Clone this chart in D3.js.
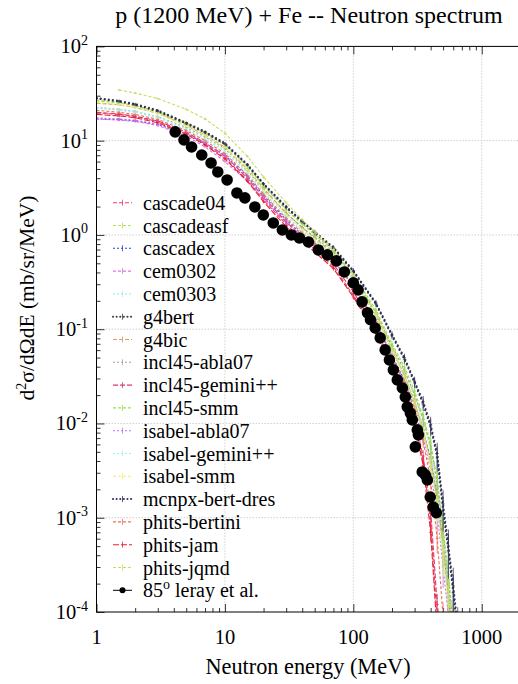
<!DOCTYPE html>
<html>
<head>
<meta charset="utf-8">
<script src="https://cdn.jsdelivr.net/npm/d3@7"></script>
<style>
  html, body { margin: 0; padding: 0; background: #fff; }
  svg { display: block; }
</style>
</head>
<body>
<div id="chart"></div>
<script>
// ---- data ----
const energies = [1, 1.5, 2, 3, 5, 7, 10, 15, 20, 30, 40, 50, 70, 100, 150, 200, 250, 300, 350, 400, 450, 500, 550, 600, 650];
const relErr   = [0.03, 0.03, 0.03, 0.03, 0.03, 0.03, 0.03, 0.03, 0.04, 0.04, 0.04, 0.05, 0.05, 0.06, 0.07, 0.08, 0.10, 0.12, 0.15, 0.2, 0.3, 0.4, 0.5, 0.55, 0.6];

const cascade04     = [19.7, 19.0, 18.0, 16.0, 12.0, 9.2, 6.6, 3.8, 2.35, 1.3, 0.90, 0.70, 0.46, 0.23, 0.095, 0.040, 0.021, 0.010, 0.0040, 0.0009, 0.00008, null, null, null, null];
const cascadeasf    = [27.0, 25.5, 23.5, 20.5, 15.5, 12.3, 9.2, 5.4, 3.3, 1.85, 1.3, 1.0, 0.68, 0.36, 0.15, 0.065, 0.036, 0.020, 0.011, 0.0055, 0.0022, 0.0007, 0.0002, 0.00006, null];
const cascadex      = [17.0, 16.8, 16.2, 14.8, 11.8, 9.4, 7.0, 4.2, 2.6, 1.45, 1.0, 0.78, 0.53, 0.29, 0.12, 0.052, 0.029, 0.016, 0.0085, 0.0042, 0.0017, 0.0005, 0.00015, 0.00005, null];
const cem0302       = [17.0, 16.5, 16.0, 14.5, 11.2, 8.6, 6.0, 3.7, 2.4, 1.36, 0.97, 0.76, 0.52, 0.29, 0.12, 0.052, 0.028, 0.015, 0.0080, 0.0040, 0.0016, 0.0005, 0.00014, 0.00005, null];
const cem0303       = [22.0, 21.0, 20.0, 17.5, 13.2, 10.4, 7.7, 4.5, 2.8, 1.55, 1.1, 0.86, 0.60, 0.33, 0.14, 0.060, 0.033, 0.018, 0.0095, 0.0048, 0.0019, 0.0006, 0.00018, 0.00006, null];
const g4bert        = [28.4, 26.5, 24.5, 21.0, 15.5, 12.5, 9.4, 5.6, 3.5, 2.0, 1.4, 1.08, 0.74, 0.42, 0.19, 0.088, 0.050, 0.028, 0.017, 0.0098, 0.0048, 0.0014, 0.0005, 0.00019, 0.00007];
const g4bic         = [25.0, 24.0, 22.5, 19.5, 14.5, 11.5, 8.5, 5.0, 3.1, 1.7, 1.2, 0.93, 0.63, 0.34, 0.14, 0.060, 0.032, 0.017, 0.0085, 0.0040, 0.0016, 0.0005, 0.00015, 0.00005, null];
const incl45Abla07  = [22.5, 21.5, 20.5, 18.0, 13.8, 11.0, 8.2, 4.8, 3.0, 1.70, 1.2, 0.95, 0.66, 0.36, 0.15, 0.066, 0.037, 0.020, 0.011, 0.0058, 0.0024, 0.0007, 0.00022, 0.00007, null];
const incl45Gemini  = [20.0, 19.2, 18.2, 16.2, 12.3, 9.5, 6.9, 4.0, 2.5, 1.38, 0.95, 0.74, 0.49, 0.25, 0.10, 0.043, 0.022, 0.011, 0.0045, 0.0012, 0.00012, 0.00004, null, null, null];
const incl45Smm     = [26.5, 25.0, 23.5, 20.0, 15.0, 12.0, 9.0, 5.3, 3.3, 1.85, 1.32, 1.02, 0.70, 0.38, 0.16, 0.070, 0.040, 0.022, 0.012, 0.0062, 0.0026, 0.0008, 0.00025, 0.00008, null];
const isabelAbla07  = [17.5, 17.0, 16.5, 15.0, 11.9, 9.4, 6.9, 4.1, 2.55, 1.42, 1.0, 0.78, 0.53, 0.29, 0.12, 0.050, 0.026, 0.014, 0.0070, 0.0032, 0.0011, 0.0003, 0.00009, null, null];
const isabelGemini  = [22.5, 21.5, 20.5, 17.8, 13.4, 10.5, 7.8, 4.6, 2.85, 1.6, 1.12, 0.88, 0.61, 0.34, 0.14, 0.059, 0.031, 0.016, 0.0080, 0.0036, 0.0013, 0.0004, 0.00012, null, null];
const isabelSmm     = [25.5, 24.0, 22.5, 19.5, 14.3, 11.3, 8.4, 4.9, 3.0, 1.65, 1.15, 0.90, 0.62, 0.34, 0.14, 0.060, 0.031, 0.016, 0.0080, 0.0036, 0.0013, 0.0004, 0.00012, null, null];
const mcnpxBertDres = [28.0, 26.0, 24.0, 20.5, 15.2, 12.2, 9.2, 5.5, 3.45, 1.95, 1.38, 1.06, 0.72, 0.41, 0.185, 0.085, 0.048, 0.027, 0.016, 0.0092, 0.0044, 0.0012, 0.00045, 0.00016, 0.00006];
const phitsBertini  = [21.0, 20.0, 19.0, 16.8, 12.8, 10.0, 7.3, 4.3, 2.7, 1.5, 1.05, 0.82, 0.55, 0.29, 0.12, 0.050, 0.027, 0.014, 0.0065, 0.0025, 0.0006, 0.00009, null, null, null];
const phitsJam      = [19.0, 18.3, 17.5, 15.5, 11.7, 9.0, 6.4, 3.7, 2.25, 1.22, 0.85, 0.66, 0.44, 0.22, 0.090, 0.038, 0.020, 0.0095, 0.0036, 0.0007, 0.00006, null, null, null, null];
const phitsJqmd     = [null, 34.5, 32.0, 28.0, 21.5, 17.0, 12.0, 6.8, 4.1, 2.2, 1.45, 1.08, 0.70, 0.37, 0.15, 0.062, 0.033, 0.017, 0.0085, 0.0040, 0.0015, 0.0005, 0.00015, 0.00005, null];

const modelNames = ['cascade04', 'cascadeasf', 'cascadex', 'cem0302', 'cem0303', 'g4bert', 'g4bic',
  'incl45-abla07', 'incl45-gemini++', 'incl45-smm', 'isabel-abla07', 'isabel-gemini++', 'isabel-smm',
  'mcnpx-bert-dres', 'phits-bertini', 'phits-jam', 'phits-jqmd'];
const modelValues = [cascade04, cascadeasf, cascadex, cem0302, cem0303, g4bert, g4bic,
  incl45Abla07, incl45Gemini, incl45Smm, isabelAbla07, isabelGemini, isabelSmm,
  mcnpxBertDres, phitsBertini, phitsJam, phitsJqmd];

// 85 deg, leray et al.
const expEnergy = [4.1, 4.8, 5.5, 6.6, 7.8, 8.8, 10.4, 12.4, 14.3, 17.1, 19.9, 23.8, 28.0, 32.9, 38.0, 44.7, 53.4, 62.8, 73.8, 85.1,
  100, 109, 117, 129, 136, 148, 162, 177, 191, 205, 220, 241, 254, 263, 278, 288, 304, 315, 321, 344, 363, 377, 397, 419, 443];
const expSigma  = [12.4, 10.2, 8.57, 7.05, 5.80, 4.66, 3.83, 2.79, 2.47, 1.98, 1.63, 1.34, 1.13, 1.00, 0.929, 0.843, 0.693, 0.614, 0.530, 0.405,
  0.310, 0.261, 0.195, 0.149, 0.126, 0.103, 0.0809, 0.0603, 0.0472, 0.0370, 0.0290, 0.0238, 0.0191, 0.0150, 0.0129, 0.0109, 0.00565, 0.00855, 0.00757, 0.00306,
  0.00285, 0.00252, 0.00166, 0.00130, 0.00113];

const xTickValues = [1, 10, 100, 1000];
const xTickLabels = ['1', '10', '100', '1000'];
const yTickExps   = [2, 1, 0, -1, -2, -3, -4];

// ---- styles ----
const modelColors = ['#e8406a', '#b8e05a', '#3a3ad8', '#e070e8', '#a8ecec', '#3c3c48', '#d0a060',
  '#98a898', '#e03868', '#98e050', '#c070f0', '#a0f4f0', '#f0ec70',
  '#303060', '#f07050', '#e82030', '#c8dc60'];
const modelDash = ['4,2', '3,2', '2,2', '3,2', '2,2', '0.1,4', '4,2',
  '2,2', '5,2', '3,2', '2,2', '2,2', '3,2',
  '0.1,4', '3,2', '6,2', '3,2'];
const serif = '"Liberation Serif", serif';

// ---- layout ----
const W = 518, H = 684;
const plot = { left: 96.5, right: 520.4, top: 46.4, bottom: 612 };

const svg = d3.select('#chart').append('svg')
  .attr('width', W)
  .attr('height', H)
  .style('font-family', serif);

const x = d3.scaleLog().domain([1, 2000]).range([plot.left, plot.right]);
const y = d3.scaleLog().domain([1e-4, 1e2]).range([plot.bottom, plot.top]);

svg.append('defs').append('clipPath').attr('id', 'clip')
  .append('rect')
    .attr('x', plot.left).attr('y', plot.top)
    .attr('width', plot.right - plot.left).attr('height', plot.bottom - plot.top);

// grid
const grid = svg.append('g').attr('stroke', '#c4c4c4').attr('stroke-width', 0.8).attr('stroke-dasharray', '1.5,1.5');
grid.selectAll('.gx').data(xTickValues.slice(1)).join('line')
  .attr('x1', d => x(d)).attr('x2', d => x(d))
  .attr('y1', plot.top).attr('y2', plot.bottom);
grid.selectAll('.gy').data(yTickExps.slice(1, -1)).join('line')
  .attr('x1', plot.left).attr('x2', plot.right)
  .attr('y1', d => y(Math.pow(10, d))).attr('y2', d => y(Math.pow(10, d)));

// ticks (inside), minor + major
const isMajor = v => Math.abs(Math.log10(v) - Math.round(Math.log10(v))) < 1e-9;
function tickAxis(axisFn, scale, tr, size, filter) {
  svg.append('g')
    .attr('transform', tr)
    .call(axisFn(scale).tickValues(scale.ticks().filter(filter)).tickSize(-size).tickFormat(''))
    .call(g => g.select('.domain').remove())
    .call(g => g.selectAll('line').attr('stroke', '#000').attr('stroke-width', 0.8));
}
tickAxis(d3.axisBottom, x, `translate(0,${plot.bottom})`, 4, v => !isMajor(v));
tickAxis(d3.axisBottom, x, `translate(0,${plot.bottom})`, 8, isMajor);
tickAxis(d3.axisTop, x, `translate(0,${plot.top})`, 4, v => !isMajor(v));
tickAxis(d3.axisTop, x, `translate(0,${plot.top})`, 8, isMajor);
tickAxis(d3.axisLeft, y, `translate(${plot.left},0)`, 4, v => !isMajor(v));
tickAxis(d3.axisLeft, y, `translate(${plot.left},0)`, 8, isMajor);

// model curves
const body = svg.append('g').attr('clip-path', 'url(#clip)');
const line = d3.line()
  .defined(d => d.v != null)
  .x(d => x(d.e))
  .y(d => y(d.v));

modelValues.forEach((vals, i) => {
  const pts = energies.map((e, k) => ({ e, v: vals[k], err: relErr[k] }));
  const dotted = modelDash[i].startsWith('0.1');
  const g = body.append('g').attr('stroke', modelColors[i]);
  g.append('path')
    .datum(pts)
    .attr('fill', 'none')
    .attr('stroke-width', dotted ? 2 : 1.1)
    .attr('stroke-linecap', dotted ? 'round' : 'butt')
    .attr('stroke-dasharray', modelDash[i])
    .attr('d', line);
  const ok = pts.filter(d => d.v != null);
  g.selectAll('.eb').data(ok).join('line')
    .attr('stroke-width', 0.8)
    .attr('x1', d => x(d.e)).attr('x2', d => x(d.e))
    .attr('y1', d => y(d.v * (1 - d.err))).attr('y2', d => y(d.v * (1 + d.err)));
  g.selectAll('.cap').data(ok).join('line')
    .attr('stroke-width', 0.8)
    .attr('x1', d => x(d.e) - 1.5).attr('x2', d => x(d.e) + 1.5)
    .attr('y1', d => y(d.v)).attr('y2', d => y(d.v));
});

// experimental points
body.selectAll('.exp').data(expEnergy).join('circle')
  .attr('cx', d => x(d))
  .attr('cy', (d, i) => y(expSigma[i]))
  .attr('r', 5.8)
  .attr('fill', '#000');

// frame
svg.append('rect')
  .attr('x', plot.left).attr('y', plot.top)
  .attr('width', plot.right - plot.left).attr('height', plot.bottom - plot.top)
  .attr('fill', 'none').attr('stroke', '#000').attr('stroke-width', 1);

// tick labels
svg.selectAll('.xl').data(xTickValues).join('text')
  .style('font-family', serif)
  .attr('x', d => x(d)).attr('y', 644)
  .attr('text-anchor', 'middle')
  .attr('font-size', 20.5)
  .text((d, i) => xTickLabels[i]);

const yl = svg.selectAll('.yl').data(yTickExps).join('text')
  .style('font-family', serif)
  .attr('x', 88).attr('y', d => y(Math.pow(10, d)) + 7)
  .attr('text-anchor', 'end')
  .attr('font-size', 20.5);
yl.append('tspan').text('10');
yl.append('tspan').attr('font-size', 14).attr('dy', -8.5).text(d => String(d));

// titles
svg.append('text')
  .style('font-family', serif)
  .attr('x', 309).attr('y', 23)
  .attr('text-anchor', 'middle').attr('font-size', 24)
  .text('p (1200 MeV) + Fe -- Neutron spectrum');

svg.append('text')
  .style('font-family', serif)
  .attr('x', 308).attr('y', 674)
  .attr('text-anchor', 'middle').attr('font-size', 22.3)
  .text('Neutron energy (MeV)');

const yt = svg.append('text')
  .style('font-family', serif)
  .attr('transform', 'translate(34,298) rotate(-90)')
  .attr('text-anchor', 'middle').attr('font-size', 21.5);
yt.append('tspan').text('d');
yt.append('tspan').attr('font-size', 14).attr('dy', -8).text('2');
yt.append('tspan').attr('dy', 8).text('σ/dΩdE (mb/sr/MeV)');

// legend
const legY0 = 202.7, legDy = 22.8;
const leg = svg.append('g');
modelNames.forEach((name, i) => {
  const ly = legY0 + i * legDy;
  const dotted = modelDash[i].startsWith('0.1');
  const g = leg.append('g').attr('stroke', modelColors[i]);
  g.append('line')
    .attr('x1', 113).attr('x2', 132).attr('y1', ly).attr('y2', ly)
    .attr('stroke-width', dotted ? 2 : 1.1)
    .attr('stroke-linecap', dotted ? 'round' : 'butt')
    .attr('stroke-dasharray', dotted ? '0.1,3.5' : modelDash[i]);
  g.append('line')
    .attr('x1', 122.5).attr('x2', 122.5).attr('y1', ly - 3).attr('y2', ly + 3)
    .attr('stroke-width', 0.8);
  leg.append('text')
    .style('font-family', serif)
    .attr('x', 143).attr('y', ly + 7)
    .attr('font-size', 20)
    .text(name);
});
{
  const ly = legY0 + modelNames.length * legDy;
  leg.append('line')
    .attr('x1', 113).attr('x2', 132).attr('y1', ly).attr('y2', ly)
    .attr('stroke', '#000').attr('stroke-width', 1);
  leg.append('circle').attr('cx', 122.5).attr('cy', ly).attr('r', 3).attr('fill', '#000');
  const t = leg.append('text').style('font-family', serif)
    .attr('x', 143).attr('y', ly + 7).attr('font-size', 20);
  t.append('tspan').text('85');
  t.append('tspan').attr('font-size', 14).attr('dy', -8).text('o');
  t.append('tspan').attr('dy', 8).text(' leray et al.');
}
</script>
</body>
</html>
